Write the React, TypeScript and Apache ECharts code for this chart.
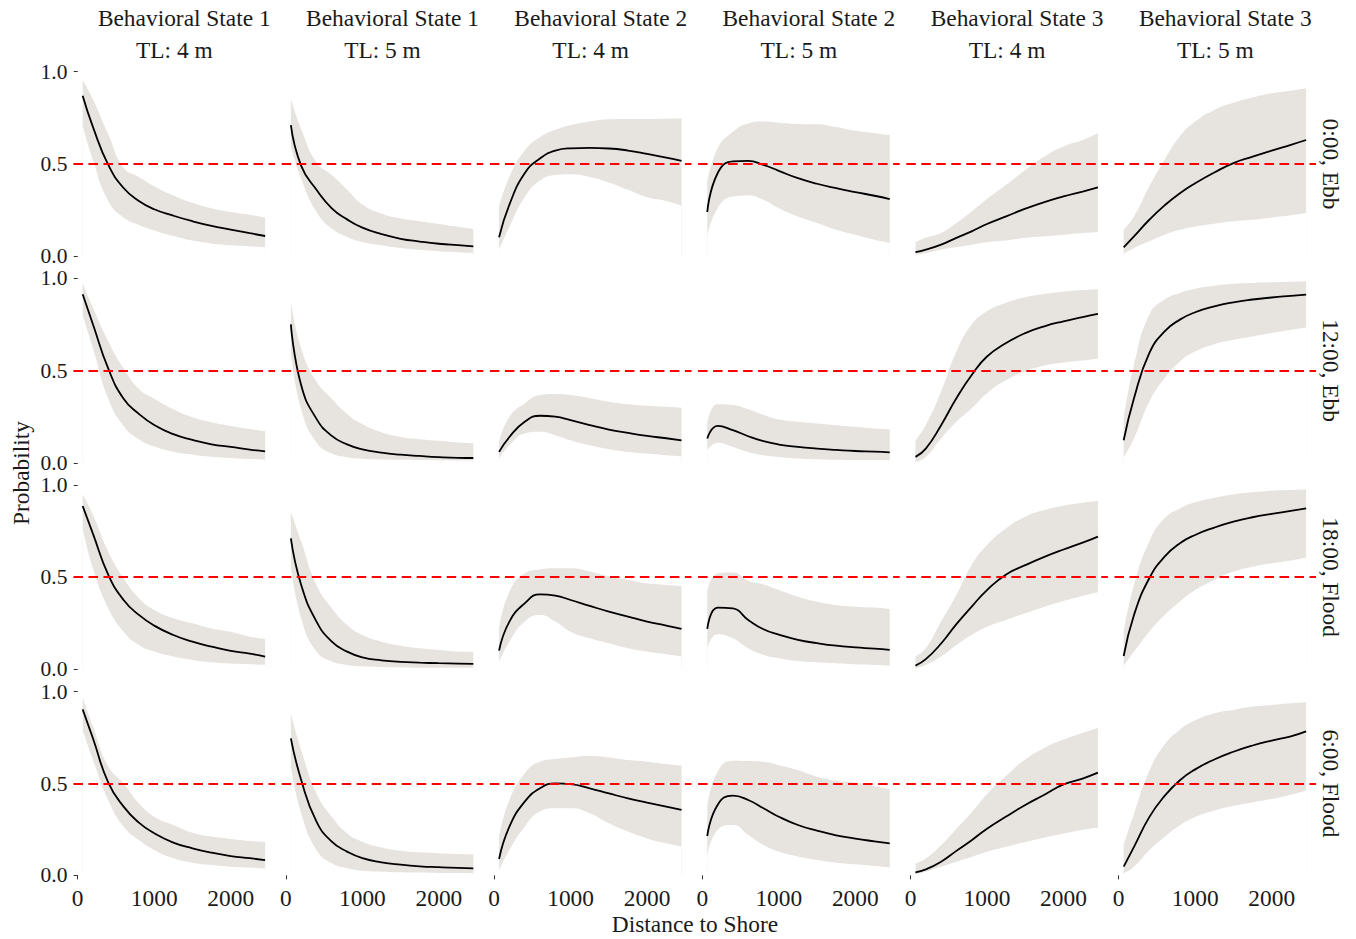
import React, { useEffect, useRef } from "react";
import * as echarts from "echarts";

// ---------- data ----------
const distance = [65, 200, 400, 600, 800, 1000, 1250, 1500, 1750, 2000, 2250, 2450];
const xTicks = [0, 1000, 2000];
const yTicks = [0, 0.5, 1];
const threshold = 0.5;
const rowLabels = ["0:00, Ebb", "12:00, Ebb", "18:00, Flood", "6:00, Flood"];
const stateLabels = ["Behavioral State 1", "Behavioral State 1", "Behavioral State 2", "Behavioral State 2", "Behavioral State 3", "Behavioral State 3"];
const tlLabels = ["TL: 4 m", "TL: 5 m", "TL: 4 m", "TL: 5 m", "TL: 4 m", "TL: 5 m"];

// Row 1: 0:00, Ebb
const r1c1Fit = [0.87, 0.7, 0.495, 0.37, 0.3, 0.255, 0.22, 0.19, 0.165, 0.145, 0.125, 0.11];
const r1c1Lo = [0.71, 0.52, 0.3, 0.21, 0.17, 0.14, 0.11, 0.085, 0.07, 0.06, 0.055, 0.05];
const r1c1Hi = [0.955, 0.85, 0.66, 0.48, 0.43, 0.38, 0.33, 0.29, 0.26, 0.24, 0.225, 0.21];
const r1c2Fit = [0.71, 0.49, 0.36, 0.26, 0.2, 0.155, 0.12, 0.095, 0.08, 0.068, 0.06, 0.054];
const r1c2Lo = [0.595, 0.42, 0.24, 0.15, 0.105, 0.078, 0.06, 0.045, 0.035, 0.027, 0.022, 0.018];
const r1c2Hi = [0.855, 0.69, 0.51, 0.44, 0.36, 0.28, 0.23, 0.205, 0.19, 0.175, 0.16, 0.148];
const r1c3Fit = [0.103, 0.28, 0.45, 0.53, 0.573, 0.585, 0.587, 0.584, 0.573, 0.555, 0.535, 0.517];
const r1c3Lo = [0.036, 0.16, 0.32, 0.41, 0.44, 0.445, 0.43, 0.4, 0.36, 0.32, 0.3, 0.274];
const r1c3Hi = [0.27, 0.43, 0.573, 0.645, 0.685, 0.71, 0.73, 0.742, 0.744, 0.744, 0.745, 0.746];
const r1c4Fit = [0.24, 0.45, 0.514, 0.517, 0.495, 0.463, 0.423, 0.393, 0.369, 0.348, 0.328, 0.31];
const r1c4Lo = [0.108, 0.26, 0.324, 0.33, 0.306, 0.26, 0.216, 0.18, 0.144, 0.117, 0.09, 0.072];
const r1c4Hi = [0.4, 0.585, 0.675, 0.72, 0.73, 0.724, 0.717, 0.715, 0.7, 0.68, 0.667, 0.658];
const r1c5Fit = [0.022, 0.036, 0.063, 0.1, 0.135, 0.175, 0.216, 0.258, 0.294, 0.324, 0.351, 0.373];
const r1c5Lo = [0.01, 0.018, 0.036, 0.05, 0.063, 0.076, 0.085, 0.1, 0.108, 0.117, 0.126, 0.13];
const r1c5Hi = [0.077, 0.1, 0.126, 0.18, 0.243, 0.31, 0.387, 0.468, 0.54, 0.595, 0.63, 0.667];
const r1c6Fit = [0.049, 0.108, 0.198, 0.276, 0.342, 0.396, 0.454, 0.505, 0.54, 0.573, 0.604, 0.63];
const r1c6Lo = [0.014, 0.045, 0.081, 0.117, 0.144, 0.162, 0.177, 0.19, 0.198, 0.21, 0.222, 0.234];
const r1c6Hi = [0.144, 0.216, 0.378, 0.523, 0.65, 0.73, 0.793, 0.832, 0.86, 0.883, 0.897, 0.91];

// Row 2: 12:00, Ebb
const r2c1Fit = [0.914, 0.75, 0.51, 0.347, 0.265, 0.205, 0.155, 0.124, 0.1, 0.086, 0.071, 0.062];
const r2c1Lo = [0.8, 0.62, 0.347, 0.2, 0.128, 0.088, 0.06, 0.044, 0.033, 0.026, 0.02, 0.018];
const r2c1Hi = [0.973, 0.84, 0.658, 0.512, 0.4, 0.347, 0.29, 0.247, 0.22, 0.2, 0.183, 0.172];
const r2c2Fit = [0.75, 0.42, 0.238, 0.146, 0.1, 0.073, 0.055, 0.044, 0.037, 0.031, 0.027, 0.026];
const r2c2Lo = [0.6, 0.29, 0.11, 0.05, 0.03, 0.022, 0.018, 0.016, 0.015, 0.014, 0.013, 0.013];
const r2c2Hi = [0.877, 0.62, 0.44, 0.347, 0.265, 0.21, 0.165, 0.14, 0.128, 0.119, 0.11, 0.106];
const r2c3Fit = [0.059, 0.14, 0.222, 0.255, 0.25, 0.231, 0.204, 0.18, 0.162, 0.146, 0.133, 0.122];
const r2c3Lo = [0.023, 0.095, 0.159, 0.168, 0.15, 0.122, 0.095, 0.074, 0.059, 0.05, 0.041, 0.035];
const r2c3Hi = [0.113, 0.25, 0.322, 0.367, 0.373, 0.367, 0.35, 0.331, 0.317, 0.309, 0.304, 0.299];
const r2c4Fit = [0.132, 0.2, 0.177, 0.144, 0.117, 0.099, 0.086, 0.077, 0.07, 0.064, 0.061, 0.057];
const r2c4Lo = [0.068, 0.108, 0.086, 0.059, 0.041, 0.032, 0.023, 0.019, 0.016, 0.015, 0.015, 0.015];
const r2c4Hi = [0.213, 0.318, 0.313, 0.29, 0.259, 0.235, 0.222, 0.213, 0.204, 0.195, 0.186, 0.182];
const r2c5Fit = [0.032, 0.077, 0.204, 0.35, 0.476, 0.576, 0.649, 0.703, 0.74, 0.767, 0.79, 0.807];
const r2c5Lo = [0.005, 0.032, 0.132, 0.222, 0.295, 0.377, 0.449, 0.495, 0.527, 0.544, 0.554, 0.565];
const r2c5Hi = [0.122, 0.204, 0.386, 0.603, 0.749, 0.821, 0.867, 0.897, 0.915, 0.927, 0.936, 0.941];
const r2c6Fit = [0.122, 0.35, 0.594, 0.712, 0.776, 0.816, 0.848, 0.87, 0.885, 0.896, 0.905, 0.912];
const r2c6Lo = [0.032, 0.132, 0.331, 0.458, 0.549, 0.603, 0.643, 0.667, 0.685, 0.703, 0.721, 0.734];
const r2c6Hi = [0.24, 0.531, 0.803, 0.885, 0.921, 0.943, 0.959, 0.97, 0.975, 0.978, 0.981, 0.984];

// Row 3: 18:00, Flood
const r3c1Fit = [0.886, 0.735, 0.512, 0.376, 0.295, 0.237, 0.186, 0.15, 0.123, 0.1, 0.085, 0.069];
const r3c1Lo = [0.765, 0.548, 0.331, 0.204, 0.132, 0.096, 0.069, 0.051, 0.038, 0.031, 0.027, 0.024];
const r3c1Hi = [0.95, 0.837, 0.638, 0.494, 0.385, 0.322, 0.277, 0.25, 0.222, 0.204, 0.177, 0.165];
const r3c2Fit = [0.71, 0.457, 0.259, 0.15, 0.096, 0.065, 0.049, 0.04, 0.036, 0.033, 0.031, 0.029];
const r3c2Lo = [0.566, 0.277, 0.096, 0.042, 0.024, 0.016, 0.012, 0.01, 0.009, 0.008, 0.008, 0.008];
const r3c2Hi = [0.855, 0.693, 0.457, 0.331, 0.24, 0.186, 0.15, 0.128, 0.114, 0.105, 0.096, 0.094];
const r3c3Fit = [0.101, 0.259, 0.358, 0.407, 0.4, 0.376, 0.344, 0.313, 0.286, 0.259, 0.237, 0.219];
const r3c3Lo = [0.042, 0.15, 0.259, 0.295, 0.259, 0.204, 0.168, 0.141, 0.114, 0.096, 0.081, 0.069];
const r3c3Hi = [0.222, 0.421, 0.521, 0.542, 0.548, 0.548, 0.53, 0.503, 0.485, 0.467, 0.458, 0.452];
const r3c4Fit = [0.219, 0.335, 0.33, 0.268, 0.217, 0.188, 0.16, 0.142, 0.128, 0.119, 0.112, 0.105];
const r3c4Lo = [0.114, 0.19, 0.168, 0.114, 0.078, 0.06, 0.045, 0.038, 0.033, 0.027, 0.024, 0.02];
const r3c4Hi = [0.421, 0.52, 0.525, 0.48, 0.46, 0.43, 0.394, 0.367, 0.349, 0.34, 0.335, 0.327];
const r3c5Fit = [0.02, 0.055, 0.14, 0.245, 0.34, 0.43, 0.515, 0.565, 0.61, 0.65, 0.687, 0.72];
const r3c5Lo = [0.005, 0.024, 0.069, 0.132, 0.186, 0.231, 0.268, 0.304, 0.34, 0.371, 0.398, 0.418];
const r3c5Hi = [0.069, 0.114, 0.259, 0.403, 0.566, 0.674, 0.765, 0.828, 0.864, 0.888, 0.904, 0.913];
const r3c6Fit = [0.072, 0.295, 0.494, 0.611, 0.684, 0.729, 0.769, 0.801, 0.825, 0.843, 0.859, 0.873];
const r3c6Lo = [0.02, 0.096, 0.204, 0.295, 0.367, 0.43, 0.485, 0.53, 0.557, 0.575, 0.59, 0.606];
const r3c6Hi = [0.204, 0.457, 0.693, 0.819, 0.873, 0.906, 0.931, 0.949, 0.96, 0.969, 0.973, 0.976];

// Row 4: 6:00, Flood
const r4c1Fit = [0.904, 0.745, 0.505, 0.374, 0.287, 0.229, 0.178, 0.147, 0.123, 0.105, 0.093, 0.083];
const r4c1Lo = [0.791, 0.628, 0.41, 0.265, 0.192, 0.138, 0.093, 0.069, 0.056, 0.047, 0.042, 0.036];
const r4c1Hi = [0.969, 0.81, 0.592, 0.5, 0.392, 0.319, 0.274, 0.232, 0.211, 0.198, 0.187, 0.181];
const r4c2Fit = [0.746, 0.519, 0.292, 0.183, 0.129, 0.093, 0.071, 0.058, 0.049, 0.044, 0.04, 0.038];
const r4c2Lo = [0.592, 0.338, 0.138, 0.065, 0.038, 0.025, 0.02, 0.017, 0.015, 0.013, 0.012, 0.011];
const r4c2Hi = [0.882, 0.682, 0.446, 0.319, 0.229, 0.183, 0.152, 0.134, 0.125, 0.12, 0.116, 0.114];
const r4c3Fit = [0.089, 0.265, 0.401, 0.474, 0.501, 0.497, 0.474, 0.446, 0.419, 0.396, 0.374, 0.356];
const r4c3Lo = [0.029, 0.138, 0.265, 0.347, 0.365, 0.365, 0.338, 0.283, 0.238, 0.201, 0.174, 0.156];
const r4c3Hi = [0.211, 0.41, 0.555, 0.619, 0.633, 0.642, 0.65, 0.642, 0.628, 0.619, 0.606, 0.597];
const r4c4Fit = [0.214, 0.383, 0.434, 0.41, 0.365, 0.319, 0.274, 0.243, 0.218, 0.2, 0.185, 0.174];
const r4c4Lo = [0.102, 0.247, 0.274, 0.22, 0.165, 0.129, 0.102, 0.083, 0.069, 0.06, 0.051, 0.044];
const r4c4Hi = [0.374, 0.564, 0.624, 0.622, 0.619, 0.6, 0.573, 0.537, 0.515, 0.505, 0.486, 0.468];
const r4c5Fit = [0.016, 0.032, 0.074, 0.133, 0.191, 0.254, 0.32, 0.383, 0.439, 0.495, 0.527, 0.559];
const r4c5Lo = [0.007, 0.02, 0.047, 0.074, 0.1, 0.128, 0.155, 0.182, 0.205, 0.227, 0.248, 0.259];
const r4c5Hi = [0.065, 0.092, 0.164, 0.254, 0.344, 0.442, 0.541, 0.631, 0.694, 0.739, 0.775, 0.802];
const r4c6Fit = [0.047, 0.155, 0.317, 0.433, 0.518, 0.577, 0.631, 0.673, 0.707, 0.734, 0.757, 0.784];
const r4c6Lo = [0.011, 0.047, 0.137, 0.209, 0.272, 0.317, 0.353, 0.379, 0.397, 0.415, 0.439, 0.46];
const r4c6Hi = [0.164, 0.335, 0.568, 0.712, 0.793, 0.844, 0.883, 0.901, 0.919, 0.928, 0.937, 0.942];

const panelData = [
  [[r1c1Fit, r1c1Lo, r1c1Hi], [r1c2Fit, r1c2Lo, r1c2Hi], [r1c3Fit, r1c3Lo, r1c3Hi], [r1c4Fit, r1c4Lo, r1c4Hi], [r1c5Fit, r1c5Lo, r1c5Hi], [r1c6Fit, r1c6Lo, r1c6Hi]],
  [[r2c1Fit, r2c1Lo, r2c1Hi], [r2c2Fit, r2c2Lo, r2c2Hi], [r2c3Fit, r2c3Lo, r2c3Hi], [r2c4Fit, r2c4Lo, r2c4Hi], [r2c5Fit, r2c5Lo, r2c5Hi], [r2c6Fit, r2c6Lo, r2c6Hi]],
  [[r3c1Fit, r3c1Lo, r3c1Hi], [r3c2Fit, r3c2Lo, r3c2Hi], [r3c3Fit, r3c3Lo, r3c3Hi], [r3c4Fit, r3c4Lo, r3c4Hi], [r3c5Fit, r3c5Lo, r3c5Hi], [r3c6Fit, r3c6Lo, r3c6Hi]],
  [[r4c1Fit, r4c1Lo, r4c1Hi], [r4c2Fit, r4c2Lo, r4c2Hi], [r4c3Fit, r4c3Lo, r4c3Hi], [r4c4Fit, r4c4Lo, r4c4Hi], [r4c5Fit, r4c5Lo, r4c5Hi], [r4c6Fit, r4c6Lo, r4c6Hi]],
];

// ---------- layout / style ----------
const W = 1356;
const H = 939;
const FONT = "'Liberation Serif', 'Times New Roman', serif";
const FS = 23.4;
const FS_Y = 21.5;
const TEXT = "#1a1a1a";
const BAND = "#e7e4e0";
const X_MIN = -55;
const X_MAX = 2580;
const Y_MIN = -0.05;
const Y_MAX = 1.05;
const colZero = [77.7, 285.9, 494.1, 702.3, 910.5, 1118.7];
const pxPerM = 0.0765;
const rowOne = [71.7, 278.3, 485, 691.7];
const rowZero = [256.3, 462.8, 669.3, 875.3];
const SMOOTH = 0.5;

export default function App() {
  const ref = useRef<HTMLDivElement>(null);

  useEffect(() => {
    if (!ref.current) return;
    const chart = echarts.init(ref.current, null, { renderer: "svg" });

    const grids: any[] = [];
    const xAxes: any[] = [];
    const yAxes: any[] = [];
    const series: any[] = [];
    const graphics: any[] = [];

    for (let r = 0; r < 4; r++) {
      const unit = rowZero[r] - rowOne[r];
      const top = rowOne[r] - (Y_MAX - 1) * unit;
      const height = (Y_MAX - Y_MIN) * unit;
      for (let c = 0; c < 6; c++) {
        const k = r * 6 + c;
        const left = colZero[c] + X_MIN * pxPerM;
        const width = (X_MAX - X_MIN) * pxPerM;
        grids.push({ left, top, width, height, containLabel: false });
        xAxes.push({
          type: "value",
          gridIndex: k,
          min: X_MIN,
          max: X_MAX,
          axisLine: { show: false },
          splitLine: { show: false },
          axisTick: { show: r === 3, length: 4, lineStyle: { color: "#333", width: 1 }, customValues: xTicks },
          axisLabel: {
            show: r === 3,
            customValues: xTicks,
            fontFamily: FONT,
            fontSize: FS,
            color: TEXT,
            margin: 2,
            formatter: (v: number) => String(v),
          },
        });
        yAxes.push({
          type: "value",
          gridIndex: k,
          min: Y_MIN,
          max: Y_MAX,
          axisLine: { show: false },
          splitLine: { show: false },
          axisTick: { show: c === 0, length: 4, lineStyle: { color: "#333", width: 1 }, customValues: yTicks },
          axisLabel: {
            show: c === 0,
            customValues: yTicks,
            fontFamily: FONT,
            fontSize: FS_Y,
            lineHeight: 18,
            color: TEXT,
            margin: 6,
            formatter: (v: number) => v.toFixed(1),
          },
        });
        const [fit, lo, hi] = panelData[r][c];
        // upper bound filled downwards in band colour
        series.push({
          type: "line",
          xAxisIndex: k,
          yAxisIndex: k,
          data: distance.map((x, i) => [x, hi[i]]),
          symbol: "none",
          smooth: SMOOTH,
          lineStyle: { width: 0, opacity: 0 },
          areaStyle: { color: BAND, opacity: 1, origin: 0 },
          silent: true,
          z: 1,
        });
        // lower bound filled downwards with background colour, leaving the ribbon
        series.push({
          type: "line",
          xAxisIndex: k,
          yAxisIndex: k,
          data: distance.map((x, i) => [x, lo[i]]),
          symbol: "none",
          smooth: SMOOTH,
          lineStyle: { width: 0, opacity: 0 },
          areaStyle: { color: "#ffffff", opacity: 1, origin: "start" },
          silent: true,
          z: 2,
        });
        series.push({
          type: "line",
          xAxisIndex: k,
          yAxisIndex: k,
          data: distance.map((x, i) => [x, fit[i]]),
          symbol: "none",
          smooth: SMOOTH,
          lineStyle: { color: "#000", width: 1.8 },
          silent: true,
          z: 3,
          markLine: {
            silent: true,
            symbol: "none",
            label: { show: false },
            lineStyle: { color: "#ff0000", width: 2, type: [9.5, 5.5] },
            data: [{ yAxis: threshold }],
          },
        });
      }
      graphics.push({
        type: "text",
        x: 1330.7,
        y: (rowOne[r] + rowZero[r]) / 2,
        rotation: -Math.PI / 2,
        style: {
          text: rowLabels[r],
          font: `${FS}px ${FONT}`,
          fill: TEXT,
          align: "center",
          verticalAlign: "middle",
        },
      });
    }

    for (let c = 0; c < 6; c++) {
      const center = colZero[c] + ((X_MIN + X_MAX) / 2) * pxPerM;
      graphics.push({
        type: "text",
        x: center + 10,
        y: 17.5,
        style: { text: stateLabels[c], font: `${FS}px ${FONT}`, fill: TEXT, align: "center", verticalAlign: "middle" },
      });
      graphics.push({
        type: "text",
        x: center,
        y: 49.8,
        style: { text: tlLabels[c], font: `${FS}px ${FONT}`, fill: TEXT, align: "center", verticalAlign: "middle" },
      });
    }

    graphics.push({
      type: "text",
      x: 21,
      y: 473,
      rotation: Math.PI / 2,
      style: { text: "Probability", font: `${FS}px ${FONT}`, fill: TEXT, align: "center", verticalAlign: "middle" },
    });
    graphics.push({
      type: "text",
      x: 695,
      y: 924,
      style: { text: "Distance to Shore", font: `${FS}px ${FONT}`, fill: TEXT, align: "center", verticalAlign: "middle" },
    });

    chart.setOption({
      animation: false,
      backgroundColor: "#ffffff",
      textStyle: { fontFamily: FONT },
      grid: grids,
      xAxis: xAxes,
      yAxis: yAxes,
      series,
      graphic: graphics,
    });

    return () => chart.dispose();
  }, []);

  return <div ref={ref} style={{ position: "fixed", left: 0, top: 0, width: W, height: H }} />;
}
